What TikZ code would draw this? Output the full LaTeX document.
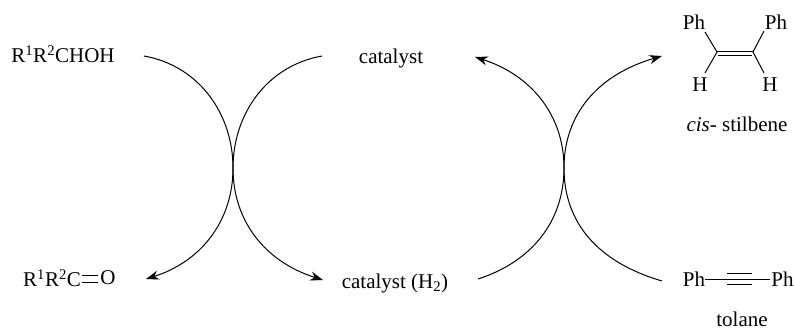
\documentclass[tikz,border=0pt]{standalone}
\usepackage{fontspec}
\setmainfont{Liberation Serif}
\usetikzlibrary{arrows.meta}
\tikzset{
  chemlabel/.style={font=\fontsize{21pt}{23pt}\selectfont, inner sep=0pt, text=black},
  cycleline/.style={line width=1pt, draw=black},
  cycleflow/.style={cycleline, -{Stealth[length=4.5mm,width=3.2mm]}},
  chembond/.style={line width=1pt, draw=black}
}
\begin{document}
\begin{tikzpicture}[x=1pt,y=-1pt]
  \useasboundingbox (0,0) rectangle (794,329);
  % left cycle
  \node[chemlabel] (alcohol) at (63,54) {R\textsuperscript{1}R\textsuperscript{2}CHOH};
  \node[chemlabel,anchor=west] (ketone) at (23,278) {R\textsuperscript{1}R\textsuperscript{2}C};
  \node[chemlabel] (oxygen) at (108,278) {O};
  \node[chemlabel] (catalyst) at (391,58) {catalyst};
  \node[chemlabel] (catalysth) at (395,283) {catalyst (H\textsubscript{2})};
  % right side
  \node[chemlabel] (phA) at (694,22) {Ph};
  \node[chemlabel] (phB) at (776,22) {Ph};
  \node[chemlabel] (hA) at (700,85) {H};
  \node[chemlabel] (hB) at (770,85) {H};
  \coordinate (vinA) at (717,52);
  \coordinate (vinB) at (753,52);
  \coordinate (vinC) at (718,55.5);
  \coordinate (vinD) at (752,55.5);
  \node[chemlabel] (stilbene) at (737,124) {\textit{cis}- stilbene};
  \node[chemlabel] (phC) at (694,279) {Ph};
  \node[chemlabel] (phD) at (782.5,279) {Ph};
  \node[chemlabel] (tolane) at (742,319.5) {tolane};
  % arcs
  \coordinate (crossA) at (233,168);
  \coordinate (crossB) at (564,168);
  \draw[cycleline] (144,56) .. controls (200,66) and (233,115) .. (crossA);
  \draw[cycleline] (322,56) .. controls (266,66) and (233,115) .. (crossA);
  \draw[cycleflow] (crossA) .. controls (233,222) and (200,262) .. (146,279);
  \draw[cycleflow] (crossA) .. controls (233,222) and (266,262) .. (323,280);
  \draw[cycleflow] (crossB) .. controls (564,115) and (531,75) .. (475,57);
  \draw[cycleflow] (crossB) .. controls (564,115) and (597,75) .. (662,56);
  \draw[cycleline] (crossB) .. controls (564,222) and (531,262) .. (478,279);
  \draw[cycleline] (crossB) .. controls (564,222) and (597,262) .. (662,281);
  % bonds
  \draw[chembond] (705,32) -- (vinA);
  \draw[chembond] (764,31) -- (vinB);
  \draw[chembond] (705,73) -- (vinA);
  \draw[chembond] (764,73) -- (vinB);
  \draw[chembond] (vinA) -- (vinB);
  \draw[chembond] (vinC) -- (vinD);
  \draw[chembond] (82,275) -- (98,275);
  \draw[chembond] (82,282) -- (98,282);
  \draw[chembond] (705,279) -- (770,279);
  \draw[chembond] (727,273) -- (752,273);
  \draw[chembond] (727,284) -- (752,284);
\end{tikzpicture}
\end{document}
